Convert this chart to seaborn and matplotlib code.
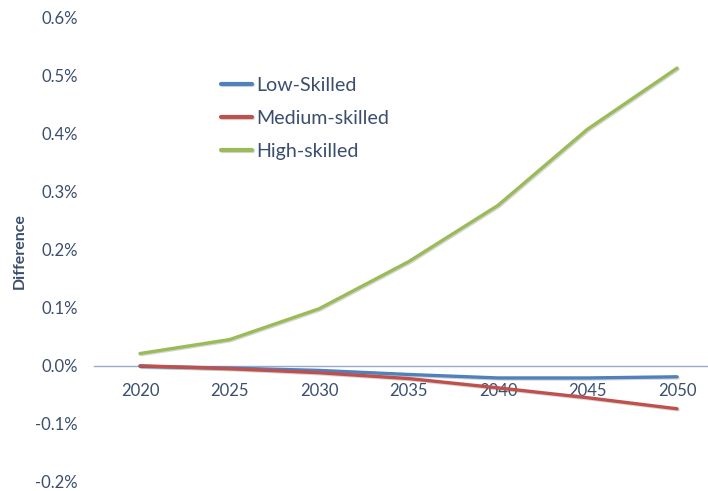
import numpy as np
import pandas as pd
import matplotlib
matplotlib.use("Agg")
import matplotlib.pyplot as plt
import matplotlib.patheffects as pe
import seaborn as sns
from matplotlib.ticker import FuncFormatter

years = [2020, 2025, 2030, 2035, 2040, 2045, 2050]
low_skilled = [-0.00001, -0.00004, -0.00008, -0.00015, -0.00021, -0.00021, -0.00019]
medium_skilled = [0.0, -0.00005, -0.00012, -0.00022, -0.00038, -0.00055, -0.00074]
high_skilled = [0.00021, 0.00045, 0.00098, 0.00179, 0.00276, 0.00407, 0.00512]
series_names = ["Low-Skilled", "Medium-skilled", "High-skilled"]
colors = ["#4F81BD", "#C0504D", "#9BBB59"]
y_ticks = [-0.002, -0.001, 0.0, 0.001, 0.002, 0.003, 0.004, 0.005, 0.006]

df = pd.DataFrame({
    "Year": years * 3,
    "Value": low_skilled + medium_skilled + high_skilled,
    "Series": [series_names[0]] * 7 + [series_names[1]] * 7 + [series_names[2]] * 7,
})

sns.set_theme(style="white")
plt.rcParams['font.family'] = ['Lato', 'DejaVu Sans']
text_color = "#3B4E6E"

top_px, bot_px = 17, 482
fig = plt.figure(figsize=(7.08, 4.91), dpi=100)
ax = fig.add_axes([94 / 708, 1 - bot_px / 491, 1 - 94 / 708, (bot_px - top_px) / 491])

sns.lineplot(data=df, x="Year", y="Value", hue="Series", hue_order=series_names,
             palette=colors, linewidth=2.4, ax=ax, legend=True)
for line in ax.lines:
    line.set_path_effects([pe.SimpleLineShadow(offset=(0.8, -0.8), alpha=0.18),
                           pe.Normal()])

ax.set_ylim(-0.002, 0.006)
ax.set_xlim(2017.43, 2051.73)
ax.set_yticks(y_ticks)
ax.yaxis.set_major_formatter(FuncFormatter(lambda v, p: f"{v*100:.1f}%"))
ax.set_xticks(years)
ax.set_xticklabels([str(y) for y in years])

for s in ["top", "right", "left"]:
    ax.spines[s].set_visible(False)
ax.spines["bottom"].set_position(("data", 0))
ax.spines["bottom"].set_color("#9AABC8")
ax.spines["bottom"].set_linewidth(1.0)
ax.spines["bottom"].set_zorder(0)

ax.tick_params(axis="both", length=0, labelsize=12, colors=text_color)
ax.tick_params(axis="y", pad=11.5)
ax.tick_params(axis="x", pad=12.5)
ax.set_xlabel("")
ax.set_ylabel("")
fig.text(20 / 708, 1 - 251 / 491, "Difference", rotation=90, ha="center", va="center",
         fontsize=11.5, fontweight="bold", color=text_color)

leg = ax.legend(loc="upper left",
                bbox_to_anchor=((221 - 94) / 614, 1 - (77 - top_px) / (bot_px - top_px)),
                frameon=False, fontsize=14.1, handlelength=1.6, handletextpad=0.2,
                labelspacing=0.82, borderaxespad=0, borderpad=0)
for t in leg.get_texts():
    t.set_color(text_color)
for l in leg.get_lines():
    l.set_linewidth(3)

fig.savefig("out.png", dpi=100)
